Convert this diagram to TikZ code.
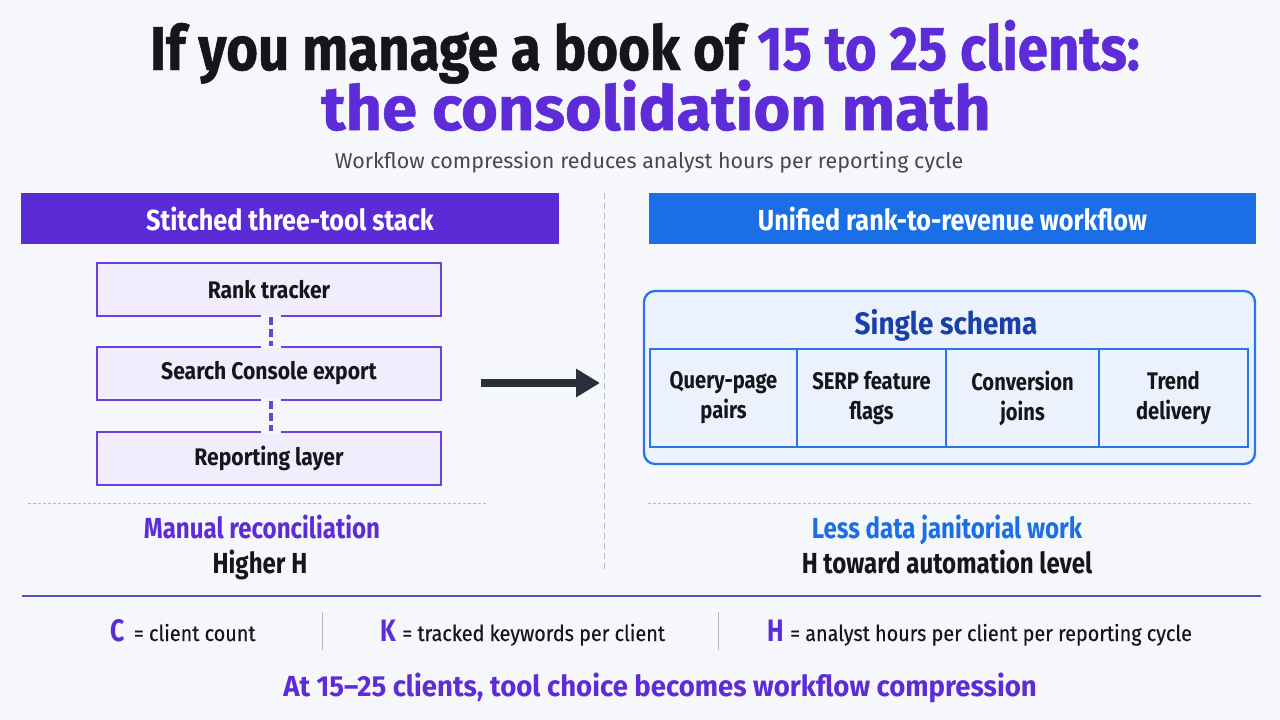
\documentclass[tikz,border=0pt]{standalone}
\usepackage{fontspec}
\usetikzlibrary{arrows.meta}
\setmainfont{Fira Sans}
\newfontfamily\tfa[FakeStretch=0.88, BoldFeatures={FakeBold=0.8}]{Fira Sans}
\newfontfamily\tfb[FakeStretch=1.02, BoldFeatures={FakeBold=0.8}]{Fira Sans}
\newfontfamily\hfont[FakeStretch=0.87]{Fira Sans}
\newfontfamily\bxfont[FakeStretch=0.88]{Fira Sans}
\newfontfamily\ftfont[FakeStretch=0.83]{Fira Sans}
\newfontfamily\cellfont[FakeStretch=0.84]{Fira Sans}
\newfontfamily\ssfont[FakeStretch=0.9]{Fira Sans}
\newfontfamily\blfont[FakeStretch=0.95]{Fira Sans}
\newfontfamily\lgfont[FakeStretch=0.9, FakeBold=0.3]{Fira Sans}
\newfontfamily\lgl[FakeStretch=0.8]{Fira Sans}
\newfontfamily\subfont{Fira Sans}
\definecolor{bg}{HTML}{F6F7FA}
\definecolor{pur}{HTML}{5E2BD8}
\definecolor{purbar}{HTML}{5B2BD6}
\definecolor{blubar}{HTML}{1A6FE6}
\definecolor{dblue}{HTML}{1840A8}
\definecolor{lav}{HTML}{F1EDFC}
\definecolor{lavline}{HTML}{6B3FE0}
\definecolor{skyfill}{HTML}{EBF2FD}
\definecolor{skyline}{HTML}{2A74E6}
\definecolor{gline}{HTML}{B4B8C4}
\definecolor{ink}{HTML}{15161A}
\definecolor{sub}{HTML}{45484F}
\definecolor{arr}{HTML}{2B2F3A}
\definecolor{botline}{HTML}{5B4FC9}
\tikzset{
  bar/.style={minimum height=51pt, inner sep=0pt, text=white, font=\hfont\bfseries\fontsize{29}{29}\selectfont},
  toolbox/.style={draw=lavline, line width=2pt, fill=lav, minimum width=344pt, minimum height=53pt, inner sep=0pt, text=ink, font=\bxfont\bfseries\fontsize{24}{24}\selectfont},
  cell/.style={draw=skyline, line width=1.3pt, minimum height=98pt, inner sep=0pt, align=center, text=ink, font=\cellfont\bfseries\fontsize{24}{30}\selectfont},
  sep/.style={draw=gline, line width=0.8pt, dash pattern=on 3pt off 2pt},
  vsep/.style={draw=gline, line width=0.8pt},
  big/.style={inner sep=0pt, font=\ftfont\bfseries\fontsize{29}{29}\selectfont},
  leg/.style={inner sep=0pt, text=ink, font=\lgfont\fontsize{22}{22}\selectfont, anchor=base west},
  legl/.style={inner sep=0pt, text=pur, font=\lgl\bfseries\fontsize{31}{31}\selectfont, anchor=base west},
  link/.style={lavline, line width=3.5pt, dash pattern=on 8pt off 4pt},
  gapfill/.style={fill=bg},
}
\begin{document}
\begin{tikzpicture}[x=1pt,y=-1pt]
\useasboundingbox (0,0) rectangle (1280,720);
\fill[bg] (0,0) rectangle (1280,720);
% title
\node[inner sep=0pt, anchor=base, font=\tfa\bfseries\fontsize{62}{62}\selectfont, text=ink] (t1) at (645,70) {If you manage a book of \textcolor{pur}{15 to 25 clients:}};
\node[inner sep=0pt, anchor=base, font=\tfb\bfseries\fontsize{62}{62}\selectfont, text=pur] (t2) at (656,130) {the consolidation math};
\node[inner sep=0pt, anchor=base, font=\subfont\fontsize{21.5}{21.5}\selectfont, text=sub] (st) at (649,168) {Workflow compression reduces analyst hours per reporting cycle};
% header bars
\node[bar, fill=purbar, minimum width=538pt] (lh) at (290,218.5) {Stitched three-tool stack};
\node[bar, fill=blubar, minimum width=607pt] (rh) at (952.5,218.5) {Unified rank-to-revenue workflow};
% divider
\coordinate (dv1) at (604,193);
\coordinate (dv2) at (604,572);
\draw[draw=gline, line width=0.8pt, dash pattern=on 6pt off 4pt] (dv1) -- (dv2);
% left tool stack
\node[toolbox] (rt) at (269,289.5) {Rank tracker};
\node[toolbox] (sc) at (269,373.5) {Search Console export};
\node[toolbox] (rl) at (269,458) {Reporting layer};
\foreach \n/\a in {rt/south, sc/north, sc/south, rl/north}{
  \fill[gapfill] ([xshift=-8pt,yshift=-2pt]\n.\a) rectangle ([xshift=12pt,yshift=2pt]\n.\a);
}
\draw[link] ([xshift=2pt]rt.south) -- ([xshift=2pt]sc.north);
\draw[link] ([xshift=2pt]sc.south) -- ([xshift=2pt]rl.north);
% arrow
\coordinate (a1) at (481,383);
\coordinate (a2) at (600,383);
\draw[arr, line width=8pt, -{Triangle[length=24pt,width=27pt]}] (a1) -- (a2);
% left footer
\coordinate (ld1) at (28,503);
\coordinate (ld2) at (487,503);
\draw[sep] (ld1) -- (ld2);
\node[big, text=pur, anchor=base] (mr) at (262,538) {Manual reconciliation};
\node[big, text=ink, anchor=base] (hh) at (260,573) {Higher H};
% right schema
\node[draw=skyline, line width=2.3pt, fill=skyfill, rounded corners=11pt, minimum width=611pt, minimum height=173pt, inner sep=0pt] (sch) at (949.5,377.5) {};
\node[inner sep=0pt, anchor=base, text=dblue, font=\ssfont\bfseries\fontsize{31}{31}\selectfont] (ss) at (946,334) {Single schema};
\node[cell, minimum width=147pt] (c1) at (723.5,398) {Query-page\\pairs};
\node[cell, minimum width=149pt] (c2) at (871.5,398) {SERP feature\\flags};
\node[cell, minimum width=153pt] (c3) at (1022.5,398) {Conversion\\joins};
\node[cell, minimum width=149pt] (c4) at (1173.5,398) {Trend\\delivery};
% right footer
\coordinate (rd1) at (648,503);
\coordinate (rd2) at (1251,503);
\draw[sep] (rd1) -- (rd2);
\node[big, text=blubar, anchor=base] (ld) at (947,538) {Less data janitorial work};
\node[big, text=ink, anchor=base] (ht) at (947,573) {H toward automation level};
% bottom rule
\coordinate (b1) at (22,596);
\coordinate (b2) at (1261,596);
\draw[botline, line width=1.8pt] (b1) -- (b2);
% legend
\node[legl] (lc) at (110,641) {C};
\node[leg] (lct) at ([xshift=9pt]lc.base east) {= client count};
\coordinate (s1a) at (322,612); \coordinate (s1b) at (322,650);
\draw[vsep] (s1a) -- (s1b);
\node[legl] (lk) at (380,641) {K};
\node[leg] (lkt) at ([xshift=6pt]lk.base east) {= tracked keywords per client};
\coordinate (s2a) at (718,612); \coordinate (s2b) at (718,650);
\draw[vsep] (s2a) -- (s2b);
\node[legl] (lhh) at (767,641) {H};
\node[leg] (lht) at ([xshift=6pt]lhh.base east) {= analyst hours per client per reporting cycle};
% bottom line
\node[inner sep=0pt, text=pur, anchor=base, font=\blfont\bfseries\fontsize{29}{29}\selectfont] (bl) at (660,696) {At 15–25 clients, tool choice becomes workflow compression};
\end{tikzpicture}
\end{document}
